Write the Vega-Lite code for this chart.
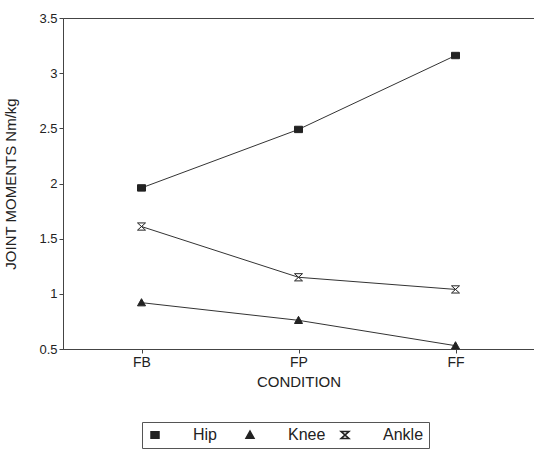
{
  "$schema": "https://vega.github.io/schema/vega-lite/v6.json",
  "width": 471,
  "height": 331,
  "autosize": {"type": "none"},
  "padding": {"left": 63, "top": 18, "right": 0, "bottom": 103},
  "background": "white",
  "config": {
    "font": "Liberation Sans",
    "view": {"stroke": "#444", "strokeWidth": 1},
    "axis": {
      "grid": false,
      "domainColor": "#444",
      "tickColor": "#444",
      "labelColor": "#222",
      "titleColor": "#222",
      "labelFontSize": 13,
      "titleFontSize": 15,
      "titleFontWeight": "normal",
      "tickSize": 4
    },
    "legend": {"labelColor": "#222"}
  },
  "data": {
    "values": [
      {"joint": "Hip", "condition": "FB", "moment": 1.96},
      {"joint": "Hip", "condition": "FP", "moment": 2.49},
      {"joint": "Hip", "condition": "FF", "moment": 3.16},
      {"joint": "Knee", "condition": "FB", "moment": 0.92},
      {"joint": "Knee", "condition": "FP", "moment": 0.76},
      {"joint": "Knee", "condition": "FF", "moment": 0.53},
      {"joint": "Ankle", "condition": "FB", "moment": 1.61},
      {"joint": "Ankle", "condition": "FP", "moment": 1.15},
      {"joint": "Ankle", "condition": "FF", "moment": 1.04}
    ]
  },
  "encoding": {
    "x": {
      "field": "condition",
      "type": "ordinal",
      "sort": ["FB", "FP", "FF"],
      "scale": {"type": "point", "padding": 0.5},
      "axis": {"title": "CONDITION", "labelAngle": 0, "labelFontSize": 14, "labelPadding": 2, "titlePadding": 5}
    },
    "y": {
      "field": "moment",
      "type": "quantitative",
      "scale": {"domain": [0.5, 3.5], "nice": false, "zero": false},
      "axis": {
        "title": "JOINT MOMENTS Nm/kg",
        "values": [0.5, 1, 1.5, 2, 2.5, 3, 3.5],
        "format": "~g",
        "labelPadding": 2,
        "titlePadding": 20
      }
    }
  },
  "layer": [
    {
      "mark": {"type": "line", "color": "#333", "strokeWidth": 1},
      "encoding": {"detail": {"field": "joint"}}
    },
    {
      "mark": {"type": "point", "stroke": "#222", "strokeWidth": 1, "size": 64, "opacity": 1},
      "encoding": {
        "shape": {
          "field": "joint",
          "type": "nominal",
          "scale": {
            "domain": ["Hip", "Knee", "Ankle"],
            "range": [
              "M-1,-0.8H1V0.8H-1Z",
              "M0,-1L1,0.8L-1,0.8Z",
              "M-1,-0.9H1L-1,0.9H1Z"
            ]
          },
          "legend": {
            "orient": "none",
            "legendX": 79,
            "legendY": 404,
            "direction": "horizontal",
            "title": null,
            "strokeColor": "#555",
            "padding": 5,
            "symbolSize": 64,
            "labelFontSize": 16,
            "labelOffset": 30,
            "columnPadding": 8,
            "gridAlign": "all",
            "encode": {
              "symbols": {
                "stroke": {"value": "#222"},
                "strokeWidth": {"value": 1}
              }
            }
          }
        },
        "fill": {
          "field": "joint",
          "type": "nominal",
          "scale": {"domain": ["Hip", "Knee", "Ankle"], "range": ["#222", "#222", "white"]}
        }
      }
    }
  ]
}
